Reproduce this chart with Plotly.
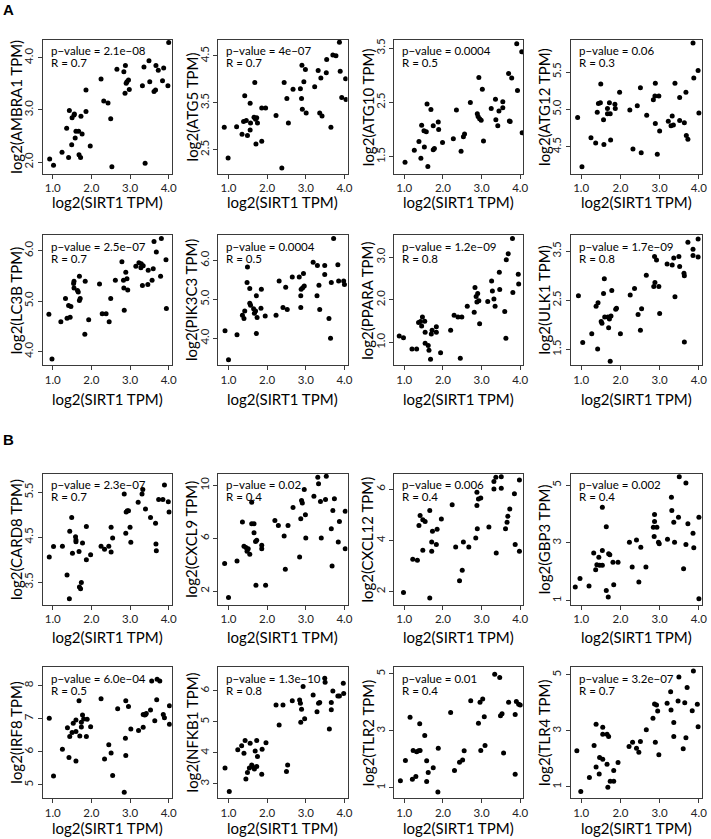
import plotly.graph_objects as go

# ---------------- data ----------------
x_label = "log2(SIRT1 TPM)"
x_ticks = [1.0, 2.0, 3.0, 4.0]
x_tick_text = ["1.0", "2.0", "3.0", "4.0"]

genes = ["AMBRA1", "ATG5", "ATG10", "ATG12", "LC3B", "PIK3C3", "PPARA", "ULK1",
         "CARD8", "CXCL9", "CXCL12", "GBP3", "IRF8", "NFKB1", "TLR2", "TLR4"]
p_values = ["2.1e\u221208", "4e\u221207", "0.0004", "0.06", "2.5e\u221207", "0.0004", "1.2e\u221209", "1.7e\u221209",
            "2.3e\u221207", "0.02", "0.006", "0.002", "6.0e\u221204", "1.3e\u221210", "0.01", "3.2e\u221207"]
r_values = ["0.7", "0.7", "0.5", "0.3", "0.7", "0.5", "0.8", "0.8",
            "0.7", "0.4", "0.4", "0.4", "0.5", "0.8", "0.4", "0.7"]

y_ticks = {
    "AMBRA1": [2.0, 3.0, 4.0], "ATG5": [2.5, 3.5, 4.5], "ATG10": [1.5, 2.5, 3.5], "ATG12": [4.5, 5.0, 5.5],
    "LC3B": [4.0, 5.0, 6.0], "PIK3C3": [4.0, 5.0, 6.0], "PPARA": [1.0, 2.0, 3.0], "ULK1": [1.5, 2.5, 3.5],
    "CARD8": [3.5, 4.5, 5.5], "CXCL9": [2, 6, 10], "CXCL12": [2, 4, 6], "GBP3": [1, 3, 5],
    "IRF8": [5, 6, 7, 8], "NFKB1": [3, 4, 5, 6], "TLR2": [1, 3, 5], "TLR4": [1, 3, 5],
}
y_tick_decimals = {"CXCL9": 0, "CXCL12": 0, "GBP3": 0, "IRF8": 0, "NFKB1": 0, "TLR2": 0, "TLR4": 0}

ambra1 = [(0.92,2.06),(1.02,1.94),(1.24,2.19),(1.36,2.65),(1.41,2.09),(1.43,2.99),(1.49,2.33),(1.50,2.85),(1.55,2.90),(1.56,2.92),
          (1.58,2.46),(1.60,2.59),(1.67,2.59),(1.68,2.14),(1.72,2.09),(1.73,2.88),(1.76,2.54),(1.86,2.97),(1.86,3.38),(1.97,2.31),
          (2.25,3.59),(2.32,3.17),(2.43,3.13),(2.50,2.83),(2.53,1.91),(2.66,3.78),(2.84,3.73),(2.88,3.85),(2.87,3.32),(2.90,3.51),
          (2.92,3.54),(2.96,3.57),(2.98,3.39),(3.32,3.46),(3.36,3.82),(3.39,1.98),(3.49,3.94),(3.51,3.54),(3.62,3.35),(3.66,3.38),
          (3.67,3.85),(3.73,3.76),(3.84,3.56),(3.87,3.80),(3.98,3.46),(4.00,4.29)]
atg5 = [(0.89,2.98),(0.99,2.32),(1.21,2.99),(1.35,2.83),(1.39,3.10),(1.42,3.65),(1.46,3.12),(1.49,2.80),(1.56,3.49),(1.57,3.07),
        (1.56,2.92),(1.66,3.19),(1.68,3.93),(1.70,3.15),(1.73,3.18),(1.71,2.62),(1.75,3.07),(1.86,2.68),(1.86,3.39),(1.96,3.39),
        (2.23,3.23),(2.38,2.11),(2.44,3.93),(2.51,3.59),(2.55,3.07),(2.67,3.79),(2.86,3.80),(2.89,3.59),(2.90,4.30),(2.91,3.36),
        (2.95,3.95),(2.99,4.21),(3.01,3.28),(3.23,3.84),(3.32,4.19),(3.36,3.28),(3.39,4.03),(3.42,3.22),(3.53,4.14),(3.54,4.42),
        (3.65,2.98),(3.70,4.52),(3.78,4.50),(3.87,4.79),(3.89,4.17),(3.93,3.61),(4.03,4.01),(4.04,3.57)]
atg10 = [(1.02,1.40),(1.26,1.62),(1.38,1.78),(1.43,1.47),(1.45,2.08),(1.51,1.98),(1.52,1.68),(1.57,1.96),(1.59,2.47),(1.61,1.32),
         (1.69,2.37),(1.75,2.07),(1.75,1.63),(1.78,1.65),(1.88,2.14),(1.89,2.00),(1.99,1.76),(2.27,1.83),(2.35,2.36),(2.47,1.60),
         (2.53,1.87),(2.56,1.92),(2.71,2.50),(2.89,2.29),(2.91,2.24),(2.93,2.96),(2.95,2.20),(2.99,2.17),(3.02,2.74),(3.05,1.79),
         (3.25,2.39),(3.36,2.56),(3.37,2.18),(3.42,2.07),(3.45,2.34),(3.55,2.51),(3.55,2.40),(3.70,3.03),(3.72,2.16),(3.74,2.15),
         (3.78,2.95),(3.91,3.58),(3.93,2.72),(4.04,3.43),(4.05,1.94)]
atg12 = [(0.91,4.89),(1.02,4.23),(1.25,4.62),(1.37,4.55),(1.41,4.96),(1.44,5.08),(1.49,5.09),(1.50,5.34),(1.57,4.86),(1.58,4.53),
         (1.67,5.01),(1.67,4.94),(1.72,5.09),(1.74,4.94),(1.75,4.59),(1.86,5.07),(1.87,5.01),(1.98,5.23),(2.24,4.99),(2.32,4.47),
         (2.43,5.05),(2.51,5.29),(2.53,4.42),(2.67,4.92),(2.84,5.13),(2.88,5.18),(2.89,5.35),(2.89,4.81),(2.94,4.40),(2.98,5.18),
         (3.00,4.71),(3.22,4.84),(3.29,4.78),(3.32,4.91),(3.35,4.79),(3.39,5.35),(3.51,5.16),(3.51,4.85),(3.63,4.82),(3.67,5.23),
         (3.68,4.65),(3.72,4.60),(3.85,5.89),(3.87,5.42),(3.98,5.52),(4.00,4.95)]
lc3b = [(0.90,4.74),(0.98,3.85),(1.21,4.59),(1.33,5.05),(1.37,4.66),(1.41,4.91),(1.45,4.68),(1.47,4.89),(1.54,5.35),(1.55,5.26),
        (1.55,5.39),(1.64,5.21),(1.66,5.18),(1.69,5.49),(1.69,5.01),(1.71,5.05),(1.83,4.34),(1.84,5.39),(1.93,4.63),(2.21,5.34),
        (2.28,4.75),(2.38,4.75),(2.46,4.59),(2.50,5.05),(2.62,5.41),(2.79,5.78),(2.83,5.41),(2.84,5.26),(2.85,4.82),(2.89,5.57),
        (2.92,5.44),(2.94,5.22),(3.15,5.69),(3.23,5.76),(3.28,5.66),(3.29,5.74),(3.32,5.31),(3.34,5.70),(3.46,5.33),(3.47,5.61),
        (3.57,5.41),(3.60,5.64),(3.62,6.18),(3.68,5.97),(3.79,5.49),(3.81,6.24),(3.93,5.82),(3.94,4.85)]
pik3c3 = [(0.91,4.19),(1.00,3.45),(1.22,4.09),(1.36,4.59),(1.40,4.51),(1.42,4.70),(1.49,5.83),(1.48,5.43),(1.55,5.28),(1.55,4.90),
          (1.57,4.85),(1.65,4.76),(1.67,4.64),(1.70,4.70),(1.72,4.12),(1.72,5.09),(1.74,4.53),(1.84,4.77),(1.85,5.26),(1.95,4.57),
          (2.23,4.59),(2.31,5.47),(2.41,4.79),(2.48,5.31),(2.52,4.74),(2.65,5.57),(2.83,5.57),(2.87,5.09),(2.87,4.79),(2.88,5.26),
          (2.92,5.30),(2.94,5.66),(2.96,5.34),(3.19,5.95),(3.29,5.09),(3.30,5.87),(3.34,5.36),(3.36,4.74),(3.49,5.87),(3.49,5.64),
          (3.60,4.51),(3.64,4.00),(3.66,5.43),(3.72,6.56),(3.83,5.89),(3.85,5.47),(3.98,5.47),(4.00,5.38)]
ppara = [(0.87,1.15),(0.98,1.11),(1.20,0.85),(1.32,0.85),(1.37,1.47),(1.42,1.49),(1.45,1.39),(1.47,1.60),(1.53,1.50),(1.54,1.24),
         (1.54,0.98),(1.62,0.93),(1.64,0.82),(1.68,0.61),(1.70,1.20),(1.72,1.29),(1.83,1.37),(1.83,1.24),(1.94,0.76),(2.20,1.29),
         (2.29,1.64),(2.39,1.60),(2.49,1.60),(2.45,0.63),(2.63,1.85),(2.81,1.71),(2.83,2.29),(2.86,2.08),(2.88,1.95),(2.90,2.15),
         (2.93,1.98),(2.95,1.44),(3.16,1.96),(3.26,2.44),(3.28,2.21),(3.32,2.02),(3.35,1.85),(3.46,2.65),(3.47,2.24),(3.60,1.73),
         (3.63,1.10),(3.64,2.94),(3.69,3.08),(3.80,3.44),(3.81,2.17),(3.95,2.60),(3.96,2.37)]
ulk1 = [(0.93,2.59),(1.04,1.64),(1.27,1.82),(1.38,2.38),(1.43,2.45),(1.42,1.51),(1.51,2.07),(1.53,2.03),(1.57,2.64),(1.59,2.94),
        (1.60,2.16),(1.68,2.16),(1.70,1.94),(1.72,2.12),(1.74,1.26),(1.76,2.18),(1.78,2.70),(1.88,2.32),(1.90,2.34),(2.00,1.82),
        (2.25,2.61),(2.36,2.74),(2.45,2.21),(2.51,1.89),(2.54,2.33),(2.66,3.01),(2.85,2.78),(2.88,2.86),(2.87,3.39),(2.92,3.32),
        (2.98,2.78),(3.00,2.23),(3.19,3.24),(3.32,3.22),(3.36,3.36),(3.39,2.57),(3.49,3.39),(3.51,3.19),(3.62,3.05),(3.63,3.00),
        (3.63,1.65),(3.72,3.68),(3.85,3.54),(3.85,3.41),(3.98,3.75),(3.98,3.38)]
card8 = [(0.91,4.06),(1.02,4.29),(1.25,4.30),(1.37,3.66),(1.43,3.13),(1.44,4.63),(1.49,4.94),(1.51,4.14),(1.59,4.51),(1.60,4.44),
         (1.60,4.40),(1.68,4.18),(1.69,3.39),(1.72,3.35),(1.74,3.49),(1.77,4.37),(1.87,4.00),(1.87,4.74),(1.98,4.11),(2.25,4.30),
         (2.34,4.23),(2.45,4.30),(2.51,4.17),(2.51,4.72),(2.55,4.48),(2.85,5.46),(2.89,4.59),(2.90,5.06),(2.93,5.09),(2.96,5.09),
         (3.00,4.72),(3.02,4.39),(3.21,5.28),(3.31,5.46),(3.33,5.56),(3.40,5.13),(3.53,4.94),(3.66,4.81),(3.67,4.35),(3.68,4.20),
         (3.74,5.34),(3.85,5.34),(3.89,5.66),(3.99,5.29),(4.01,5.06)]
cxcl9 = [(0.90,4.09),(1.00,1.52),(1.22,4.29),(1.36,7.23),(1.40,5.40),(1.45,5.30),(1.48,5.02),(1.51,5.22),(1.55,4.79),(1.60,8.74),
         (1.60,7.11),(1.66,7.11),(1.66,6.43),(1.70,5.77),(1.73,5.85),(1.71,2.45),(1.86,5.47),(1.86,5.22),(1.96,2.45),(2.20,7.36),
         (2.29,6.98),(2.44,6.18),(2.47,3.66),(2.54,6.98),(2.67,8.34),(2.87,7.48),(2.89,8.87),(2.91,8.67),(2.96,9.70),(2.84,4.59),
         (2.99,7.79),(3.00,6.03),(3.21,9.19),(3.31,10.63),(3.33,10.13),(3.38,8.79),(3.40,6.03),(3.51,8.94),(3.53,10.70),(3.66,6.73),
         (3.68,3.91),(3.70,8.11),(3.74,8.99),(3.87,7.28),(3.84,5.72),(4.02,8.06),(4.02,5.22)]
cxcl12 = [(0.98,1.96),(1.22,3.26),(1.34,3.22),(1.38,4.58),(1.41,4.97),(1.48,4.81),(1.48,3.61),(1.54,4.74),(1.66,5.17),(1.66,1.75),
          (1.71,3.94),(1.71,3.57),(1.73,4.36),(1.83,3.84),(1.85,4.43),(1.96,4.84),(2.24,5.39),(2.33,3.74),(2.43,2.42),(2.50,2.83),
          (2.53,3.94),(2.67,3.74),(2.85,4.09),(2.88,5.88),(2.88,5.36),(2.89,4.45),(2.92,5.62),(2.98,5.66),(3.19,4.52),(3.32,6.30),
          (3.32,6.01),(3.37,6.47),(3.38,3.51),(3.51,6.49),(3.51,6.04),(3.62,4.45),(3.66,4.71),(3.68,4.94),(3.73,5.23),(3.85,5.82),
          (3.87,3.84),(3.98,3.57),(3.98,6.36)]
gbp3 = [(0.85,1.47),(0.97,1.76),(1.20,1.50),(1.32,2.65),(1.37,2.07),(1.40,2.24),(1.45,2.50),(1.47,2.22),(1.54,2.22),(1.54,2.73),
        (1.54,4.23),(1.64,3.56),(1.64,1.35),(1.69,1.12),(1.70,2.62),(1.73,2.59),(1.81,2.33),(1.83,1.55),(1.94,2.33),(2.23,3.02),
        (2.30,2.16),(2.41,3.10),(2.47,1.64),(2.52,2.85),(2.65,2.16),(2.84,3.54),(2.86,3.22),(2.87,3.98),(2.87,3.74),(2.93,3.54),
        (2.97,3.02),(2.99,2.97),(3.20,3.12),(3.30,4.58),(3.31,4.12),(3.36,3.71),(3.38,3.02),(3.48,3.89),(3.50,5.29),(3.61,2.10),
        (3.67,5.07),(3.67,2.94),(3.72,3.66),(3.85,3.33),(3.87,2.83),(4.00,3.89),(4.00,1.06)]
irf8 = [(0.91,7.01),(1.02,5.27),(1.25,6.08),(1.38,6.73),(1.42,5.83),(1.44,6.46),(1.50,6.58),(1.53,6.86),(1.60,6.96),(1.60,6.61),
        (1.60,5.72),(1.68,7.54),(1.70,6.48),(1.74,6.89),(1.74,6.75),(1.77,7.11),(1.80,6.99),(1.87,6.46),(1.89,6.98),(1.98,6.76),
        (2.25,7.60),(2.34,5.78),(2.45,6.21),(2.51,5.96),(2.55,5.28),(2.68,7.30),(2.85,4.78),(2.88,6.41),(2.89,7.54),(2.89,5.89),
        (2.96,7.37),(3.02,6.69),(3.22,6.64),(3.34,6.74),(3.34,7.13),(3.38,7.11),(3.40,7.13),(3.42,7.16),(3.53,7.26),(3.56,8.14),
        (3.64,6.94),(3.69,7.57),(3.70,8.19),(3.77,8.14),(3.86,7.13),(3.89,7.03),(4.02,7.39),(4.02,6.83)]
nfkb1 = [(0.91,3.51),(1.02,2.75),(1.24,4.10),(1.34,4.23),(1.40,3.99),(1.43,4.40),(1.45,3.16),(1.49,3.37),(1.54,3.51),(1.56,4.31),
         (1.60,3.61),(1.62,3.56),(1.67,3.48),(1.69,4.06),(1.73,4.40),(1.73,3.56),(1.75,3.88),(1.86,3.31),(1.87,4.12),(1.97,4.33),
         (2.23,5.55),(2.31,4.90),(2.41,5.55),(2.50,3.40),(2.53,3.61),(2.65,5.68),(2.84,5.71),(2.86,5.60),(2.87,4.99),(2.89,5.41),
         (2.93,6.14),(2.97,5.10),(3.19,5.87),(3.29,5.33),(3.33,5.60),(3.36,5.63),(3.49,6.41),(3.50,6.28),(3.61,4.77),(3.66,5.63),
         (3.66,5.39),(3.70,6.00),(3.83,5.84),(3.87,5.84),(3.97,6.25),(3.98,5.92)]
tlr2 = [(0.90,1.25),(1.03,1.96),(1.15,3.48),(1.21,1.30),(1.23,2.31),(1.30,1.40),(1.32,2.27),(1.37,2.30),(1.40,3.25),(1.41,2.31),
        (1.53,2.84),(1.58,1.95),(1.58,1.22),(1.62,1.54),(1.75,1.71),(1.88,2.39),(1.87,0.85),(2.20,3.65),(2.30,1.61),(2.43,1.90),
        (2.51,1.98),(2.55,2.30),(2.72,4.06),(2.92,3.27),(2.96,4.01),(2.98,2.31),(3.03,4.12),(3.07,3.50),(3.09,2.49),(3.34,4.99),
        (3.47,4.88),(3.49,3.53),(3.53,3.60),(3.57,2.22),(3.70,4.01),(3.87,3.58),(3.87,1.48),(3.90,4.03),(3.96,3.94),(4.00,3.91)]
tlr4 = [(0.89,2.29),(0.99,0.84),(1.21,1.34),(1.33,2.48),(1.38,3.24),(1.38,1.71),(1.46,1.46),(1.47,2.05),(1.55,1.99),(1.55,3.13),
        (1.55,2.88),(1.66,2.88),(1.66,1.81),(1.70,2.80),(1.68,0.99),(1.74,1.20),(1.83,1.20),(1.83,1.59),(1.94,1.87),(2.22,2.44),
        (2.31,2.60),(2.41,2.38),(2.47,2.24),(2.51,2.62),(2.66,3.04),(2.83,3.45),(2.87,3.96),(2.89,2.60),(2.92,3.93),(2.95,3.71),
        (2.98,2.15),(3.19,3.99),(3.28,4.40),(3.29,3.75),(3.36,3.30),(3.36,2.80),(3.47,4.07),(3.49,4.93),(3.60,2.36),(3.64,4.01),
        (3.67,2.76),(3.70,4.55),(3.83,3.72),(3.86,5.14),(3.96,3.95),(3.98,3.15)]

series = [ambra1, atg5, atg10, atg12, lc3b, pik3c3, ppara, ulk1,
          card8, cxcl9, cxcl12, gbp3, irf8, nfkb1, tlr2, tlr4]

# axis extents (data units)
x_range = [0.74, 4.08]
y_ranges = {
    "AMBRA1": [1.78, 4.34], "ATG5": [1.99, 4.84], "ATG10": [1.19, 3.65], "ATG12": [4.14, 5.93],
    "LC3B": [3.73, 6.30], "PIK3C3": [3.31, 6.64], "PPARA": [0.47, 3.51], "ULK1": [1.18, 3.82],
    "CARD8": [3.0, 5.91], "CXCL9": [0.99, 10.88], "CXCL12": [1.49, 6.60], "GBP3": [0.86, 5.39],
    "IRF8": [4.60, 8.55], "NFKB1": [2.54, 6.76], "TLR2": [0.64, 5.23], "TLR4": [0.60, 5.27],
}

# ---------------- layout geometry (pixels) ----------------
W, H = 711, 839
cols_px = [(43, 173), (220, 350), (397, 527), (575, 707)]
rows_px = [(38, 172), (234, 364), (473, 604), (667, 798)]
xtitle_px = [200, 398, 637, 828]

FONT = "Lato, Carlito, sans-serif"
fig = go.Figure()
annotations = []
layout_axes = {}

for i, gene in enumerate(genes):
    r, c = divmod(i, 4)
    l, rt = cols_px[c]
    t, b = rows_px[r]
    k = i + 1
    xa = "x" if k == 1 else f"x{k}"
    ya = "y" if k == 1 else f"y{k}"
    pts = series[i]
    fig.add_trace(go.Scatter(
        x=[p[0] for p in pts], y=[p[1] for p in pts], mode="markers",
        marker=dict(size=5, color="black", line=dict(width=0)),
        xaxis=xa, yaxis=ya, showlegend=False, hoverinfo="x+y"))

    axis_common = dict(showline=True, mirror=True, linecolor="#3a3a3a", linewidth=1,
                       showgrid=False, zeroline=False, ticks="outside", ticklen=4,
                       tickcolor="#3a3a3a", tickwidth=1,
                       tickfont=dict(family=FONT, size=11.5, color="#222"))
    dec = y_tick_decimals.get(gene, 1)
    layout_axes["xaxis" if k == 1 else f"xaxis{k}"] = dict(
        domain=[l / W, rt / W], anchor=ya, range=x_range,
        tickvals=x_ticks, ticktext=x_tick_text, **axis_common)
    layout_axes["yaxis" if k == 1 else f"yaxis{k}"] = dict(
        domain=[1 - b / H, 1 - t / H], anchor=xa, range=y_ranges[gene],
        tickvals=y_ticks[gene], ticktext=[f"{v:.{dec}f}" for v in y_ticks[gene]],
        tickangle=-90, **axis_common)

    # stats text
    annotations.append(dict(x=(l + 6) / W, y=1 - (t + 11) / H, xref="paper", yref="paper",
                            text=f"p\u2212value = {p_values[i]}", showarrow=False,
                            xanchor="left", yanchor="middle",
                            font=dict(family=FONT, size=11.5, color="black")))
    annotations.append(dict(x=(l + 6) / W, y=1 - (t + 23) / H, xref="paper", yref="paper",
                            text=f"R = {r_values[i]}", showarrow=False,
                            xanchor="left", yanchor="middle",
                            font=dict(family=FONT, size=11.5, color="black")))
    # axis titles
    annotations.append(dict(x=(l - 27) / W, y=1 - ((t + b) / 2) / H, xref="paper", yref="paper",
                            text=f"log2({gene} TPM)", showarrow=False, textangle=-90,
                            xanchor="center", yanchor="middle",
                            font=dict(family=FONT, size=15, color="black")))
    annotations.append(dict(x=((l + rt) / 2) / W, y=1 - xtitle_px[r] / H, xref="paper", yref="paper",
                            text=x_label, showarrow=False, xanchor="center", yanchor="middle",
                            font=dict(family=FONT, size=15, color="black")))

# panel letters
for letter, ypx in [("A", 8), ("B", 439)]:
    annotations.append(dict(x=9 / W, y=1 - ypx / H, xref="paper", yref="paper",
                            text=f"<b>{letter}</b>", showarrow=False,
                            xanchor="center", yanchor="middle",
                            font=dict(family="Liberation Sans, Arial, sans-serif", size=15, color="black")))

fig.update_layout(width=W, height=H, margin=dict(l=0, r=0, t=0, b=0),
                  paper_bgcolor="white", plot_bgcolor="white",
                  annotations=annotations, **layout_axes)

fig.write_html("out.html")
